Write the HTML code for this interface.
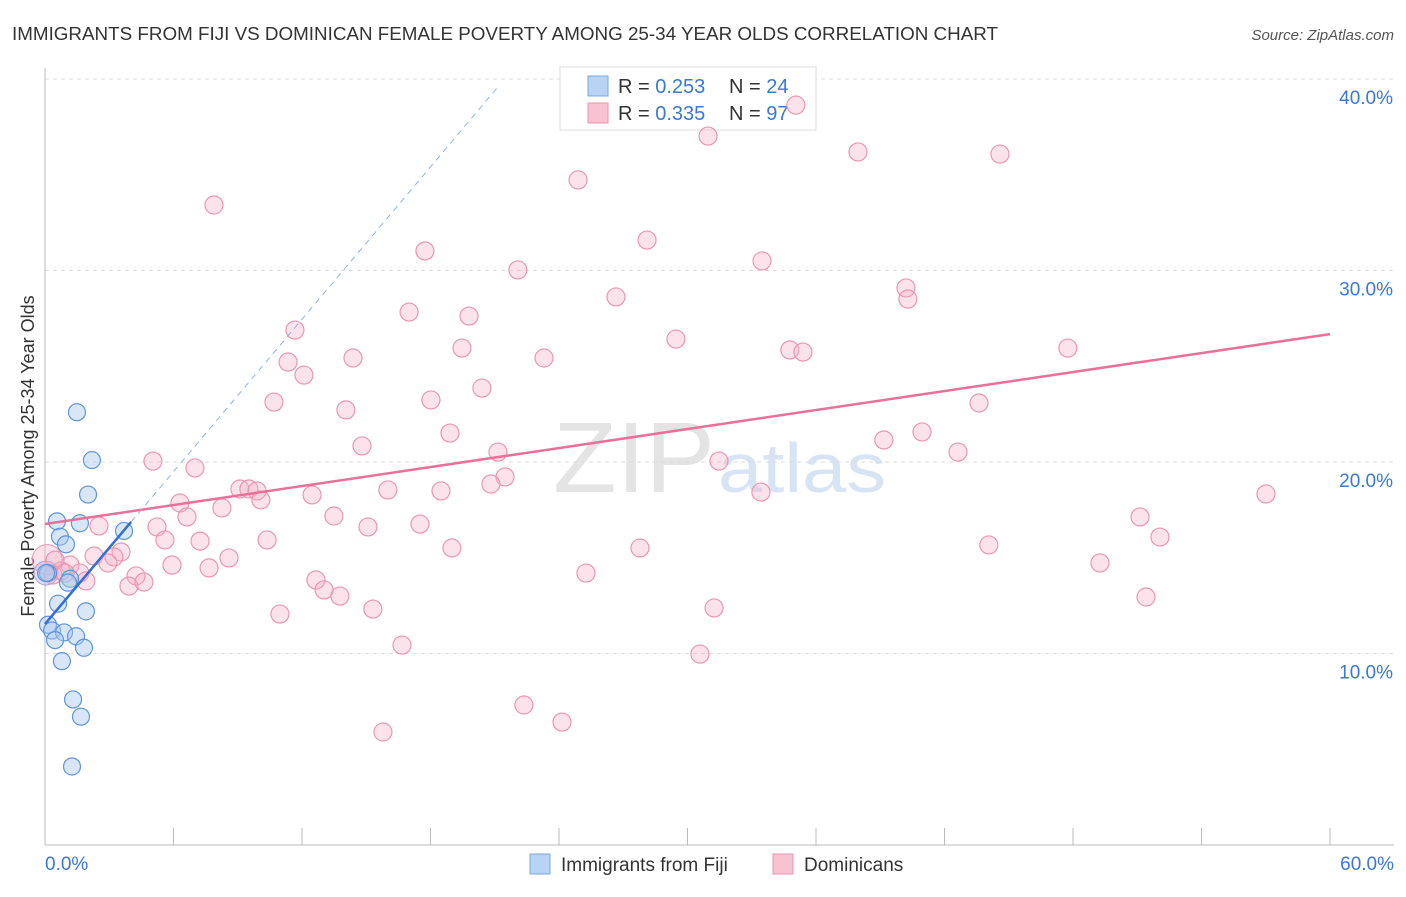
<!DOCTYPE html>
<html><head><meta charset="utf-8"><style>
body{margin:0;background:#fff;font-family:"Liberation Sans",sans-serif;}
svg text{font-family:"Liberation Sans",sans-serif;}
</style></head><body>
<svg id="chart" width="1406" height="892" xmlns="http://www.w3.org/2000/svg">
<text x="12" y="40" font-size="18" fill="#333" textLength="986" lengthAdjust="spacingAndGlyphs">IMMIGRANTS FROM FIJI VS DOMINICAN FEMALE POVERTY AMONG 25-34 YEAR OLDS CORRELATION CHART</text>
<text x="1394" y="40" font-size="15" fill="#555" font-style="italic" text-anchor="end">Source: ZipAtlas.com</text>
<text x="553" y="492" font-size="100" fill="#e4e4e4" font-family="Liberation Serif" textLength="162" lengthAdjust="spacingAndGlyphs">ZIP</text>
<text x="718" y="492" font-size="70" fill="#d8e4f4" textLength="168" lengthAdjust="spacingAndGlyphs">atlas</text>
<text transform="translate(34,456) rotate(-90)" font-size="18" fill="#333" text-anchor="middle">Female Poverty Among 25-34 Year Olds</text>
<g id="grid"></g>
<g>
<rect x="560" y="67" width="256" height="63" fill="#fff" stroke="#ddd"/>
<rect x="588" y="76" width="20" height="20" fill="#b8d3f4" stroke="#7aa8e0"/>
<rect x="588" y="103" width="20" height="20" fill="#f9c2d3" stroke="#eb96b2"/>
<text x="618" y="93" font-size="20" fill="#333">R = <tspan fill="#3a78d8">0.253</tspan></text>
<text x="729" y="93" font-size="20" fill="#333">N = <tspan fill="#3a78d8">24</tspan></text>
<text x="618" y="120" font-size="20" fill="#333">R = <tspan fill="#3a78d8">0.335</tspan></text>
<text x="729" y="120" font-size="20" fill="#333">N = <tspan fill="#3a78d8">97</tspan></text>
</g>
<g id="marks"></g>
<g>
<rect x="530" y="854" width="20" height="20" fill="#b8d3f4" stroke="#7aa8e0"/>
<text x="561" y="871" font-size="19" fill="#333">Immigrants from Fiji</text>
<rect x="773" y="854" width="20" height="20" fill="#f9c2d3" stroke="#eb96b2"/>
<text x="804" y="871" font-size="19" fill="#333">Dominicans</text>
</g>
</svg>
<script>
const yTicks=[10,20,30,40];
const yTickLabels=["10.0%","20.0%","30.0%","40.0%"];
const xTicks=[0,6,12,18,24,30,36,42,48,54,60];
const fijiX=[1.49,2.19,2.01,0.56,1.63,3.69,0.70,0.98,1.17,1.07,0.14,0.61,1.91,0.14,0.33,0.89,1.45,0.47,1.82,0.79,1.31,1.68,1.26,0.05];
const fijiY=[22.6,20.1,18.3,16.9,16.8,16.4,16.1,15.7,13.9,13.7,14.2,12.6,12.2,11.5,11.2,11.1,10.9,10.7,10.3,9.6,7.6,6.7,4.1,14.2];
const domX=[35.06,30.96,37.96,44.59,7.89,24.89,28.11,17.74,33.48,22.08,26.66,40.20,40.29,17.00,19.80,11.67,29.46,34.78,35.39,47.76,19.47,14.38,23.30,11.35,12.09,20.40,10.69,18.02,14.05,43.61,18.91,39.17,40.95,14.80,21.15,42.63,31.47,5.04,7.00,21.48,20.82,9.10,9.52,16.01,18.49,9.90,12.47,10.08,6.30,33.43,57.01,8.26,6.63,13.49,51.13,2.52,5.23,15.08,17.51,5.60,7.24,10.37,52.06,44.07,27.78,19.00,3.55,2.29,3.22,2.94,8.59,5.93,7.66,1.17,0.75,0.47,0.37,1.63,1.91,4.25,3.92,4.62,12.65,13.03,13.77,25.26,49.26,15.31,31.24,51.41,10.97,16.67,30.58,22.36,24.14,15.78,0.93];
const domY=[38.64,37.02,36.19,36.08,33.42,34.73,31.59,31.02,30.50,30.03,28.62,29.09,28.51,27.83,27.62,26.89,26.42,25.85,25.74,25.95,25.95,25.43,25.43,25.22,24.54,23.86,23.13,23.24,22.72,23.08,21.51,21.15,21.57,20.84,20.52,20.52,20.05,20.05,19.69,19.22,18.85,18.59,18.59,18.54,18.49,18.49,18.28,18.02,17.86,18.43,18.33,17.60,17.13,17.18,17.13,16.66,16.61,16.61,16.76,15.93,15.87,15.93,16.08,15.67,15.51,15.51,15.30,15.09,15.04,14.73,14.99,14.62,14.47,14.62,14.31,14.88,14.10,14.20,13.79,14.05,13.52,13.73,13.84,13.32,13.00,14.20,14.73,12.32,12.38,12.95,12.06,10.44,9.97,7.31,6.42,5.90,14.20];
const fijiTrend=[0,11.54,4.02,16.87];
const fijiDash=[4.02,16.87,21.15,39.59];
const domTrend=[0,16.76,60,26.68];
const NS="http://www.w3.org/2000/svg";
const X=v=>45+v*1285/60, Y=v=>845-v*19.15;
function mk(tag,at,parent){const e=document.createElementNS(NS,tag);for(const k in at)e.setAttribute(k,at[k]);parent.appendChild(e);return e;}
const grid=document.getElementById('grid'), marks=document.getElementById('marks');
yTicks.forEach((t,i)=>{
 const l=mk('line',{x1:45,x2:1394,y1:Y(t),y2:Y(t),stroke:'#ddd','stroke-dasharray':'4,4'},grid);
 
 
 const tx=mk('text',{x:1393,y:Y(t)+25,'font-size':19,fill:'#3a78d8','text-anchor':'end'},grid);
 tx.textContent=yTickLabels[i];
 
 
});
const ax=mk('line',{x1:45,x2:1394,y1:845,y2:845,stroke:'#bbb'},grid);


const ay=mk('line',{x1:45,x2:45,y1:68,y2:845,stroke:'#bbb'},grid);


xTicks.forEach(t=>{const l=mk('line',{x1:X(t),x2:X(t),y1:828,y2:845,stroke:'#bbb'},grid);
 
 });
const xl0=mk('text',{x:45,y:870,'font-size':19,fill:'#3a78d8'},grid);xl0.textContent='0.0%';


const xl1=mk('text',{x:1394,y:870,'font-size':19,fill:'#3a78d8','text-anchor':'end'},grid);xl1.textContent='60.0%';


const b1=mk('circle',{cx:X(0.1),cy:Y(14.9),r:15,fill:'rgba(247,175,197,0.35)',stroke:'#eb96b2'},marks);


const b2=mk('circle',{cx:X(0.05),cy:Y(14.2),r:12,fill:'rgba(190,180,220,0.45)',stroke:'#a9a0d8'},marks);


domX.forEach((v,i)=>{const c=mk('circle',{cx:X(v),cy:Y(domY[i]),r:9,fill:'rgba(247,175,197,0.35)',stroke:'#eb96b2','stroke-width':1.2},marks);
 
 });
fijiX.forEach((v,i)=>{const c=mk('circle',{cx:X(v),cy:Y(fijiY[i]),r:8.5,fill:'rgba(169,200,240,0.45)',stroke:'#5f95db','stroke-width':1.2},marks);
 
 });
const dl=mk('line',{x1:X(domTrend[0]),y1:Y(domTrend[1]),x2:X(domTrend[2]),y2:Y(domTrend[3]),stroke:'#e8709a','stroke-width':2.5},marks);


const fd=mk('line',{x1:X(fijiDash[0]),y1:Y(fijiDash[1]),x2:X(fijiDash[2]),y2:Y(fijiDash[3]),stroke:'#8fb4e6','stroke-width':1,'stroke-dasharray':'6,5'},marks);


const fl=mk('line',{x1:X(fijiTrend[0]),y1:Y(fijiTrend[1]),x2:X(fijiTrend[2]),y2:Y(fijiTrend[3]),stroke:'#2f6fd6','stroke-width':2.5},marks);


</script>
</body></html>
